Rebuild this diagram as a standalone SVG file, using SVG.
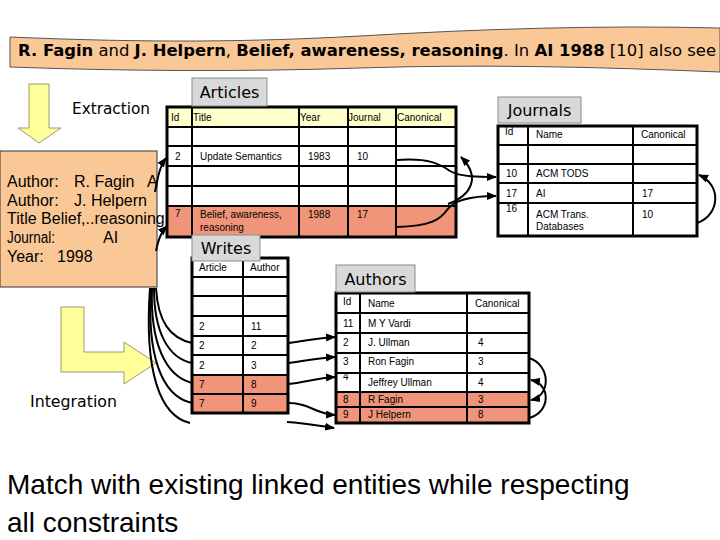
<svg xmlns="http://www.w3.org/2000/svg" width="720" height="540" viewBox="0 0 720 540">
<defs>
<style>
.t{font-family:"Liberation Sans",Arial,sans-serif;font-size:10px;fill:#000}
.lbl{font-family:"DejaVu Sans",Verdana,sans-serif;font-size:16px;fill:#000}
.rec{font-family:"Liberation Sans",Arial,sans-serif;font-size:16px;fill:#000}
.big{font-family:"Liberation Sans",Arial,sans-serif;font-size:28px;fill:#000}
.grid{stroke:#000;stroke-width:2;fill:none}
.outer{stroke:#000;stroke-width:3;fill:none}
.conn{fill:none;stroke:#000;stroke-width:2}
.lbox{fill:#D9D9D9;stroke:#8C8C8C;stroke-width:1}
.hdr{fill:#FFFFCC}
.sal{fill:#F0957A}
.yarrow{fill:#FFFF99;stroke:#9A9A70;stroke-width:1}
</style>
<marker id="ah" markerUnits="userSpaceOnUse" markerWidth="10" markerHeight="8" refX="9" refY="4" orient="auto">
<path d="M0,0 L10,4 L0,8 Z" fill="#000"/>
</marker>
</defs>
<rect width="720" height="540" fill="#fff"/>

<g id="banner">
<path d="M10,37 C150,43 250,42 360,36 C480,29 600,25 720,28 L720,72 C600,67 480,64 360,68 C240,72 120,71 10,67 Z" fill="#FAC896" stroke="#555" stroke-width="1"/>
<text class="lbl" x="18" y="56" textLength="698" lengthAdjust="spacingAndGlyphs"><tspan font-weight="bold">R. Fagin</tspan> and <tspan font-weight="bold">J. Helpern</tspan>,  <tspan font-weight="bold">Belief, awareness, reasoning</tspan>. In <tspan font-weight="bold">AI 1988</tspan> [10] also see</text>
</g>

<g id="extraction">
<path class="yarrow" d="M29,84 L49,84 L49,128 L61,128 L39,143 L18,128 L29,128 Z"/>
<text class="lbl" x="72" y="114" textLength="78" lengthAdjust="spacingAndGlyphs">Extraction</text>
</g>

<g id="record">
<rect x="0" y="151" width="157" height="136" fill="#FAC896" stroke="#333" stroke-width="1"/>
<text class="rec" y="187"><tspan x="7">Author:</tspan><tspan x="74">R. Fagin</tspan><tspan x="147">A</tspan></text>
<text class="rec" y="206"><tspan x="7">Author:</tspan><tspan x="74">J. Helpern</tspan></text>
<text class="rec" x="7" y="224">Title Belief,..reasoning</text>
<text class="rec" y="243"><tspan x="7" textLength="48" lengthAdjust="spacingAndGlyphs">Journal:</tspan><tspan x="103">AI</tspan></text>
<text class="rec" y="262"><tspan x="7">Year:</tspan><tspan x="57">1998</tspan></text>
</g>

<g id="integration">
<path class="yarrow" d="M61,307 L84,307 L84,352 L124,352 L124,342 L156,363 L124,384 L124,372 L61,372 Z"/>
<text class="lbl" x="30" y="407" textLength="87" lengthAdjust="spacingAndGlyphs">Integration</text>
</g>

<g id="articles">
<rect class="hdr" x="167" y="107" width="289" height="20"/>
<rect class="sal" x="167" y="206" width="289" height="31"/>
<path class="grid" d="M167,127H456M167,146H456M167,166H456M167,186H456M167,206H456M192,107V237M299,107V237M348,107V237M396,107V237"/>
<rect class="outer" x="167" y="107" width="289" height="130"/>
<text class="t" x="171" y="121">Id</text>
<text class="t" x="193" y="121">Title</text>
<text class="t" x="300" y="121">Year</text>
<text class="t" x="348" y="121">Journal</text>
<text class="t" x="397" y="121">Canonical</text>
<text class="t" x="175" y="160">2</text>
<text class="t" x="200" y="160">Update Semantics</text>
<text class="t" x="308" y="160">1983</text>
<text class="t" x="357" y="160">10</text>
<text class="t" x="175" y="217">7</text>
<text class="t" x="200" y="218">Belief, awareness,</text>
<text class="t" x="200" y="231">reasoning</text>
<text class="t" x="308" y="218">1988</text>
<text class="t" x="357" y="218">17</text>
<rect class="lbox" x="192" y="78" width="75" height="28"/>
<text class="lbl" x="229.5" y="98" text-anchor="middle">Articles</text>
</g>

<g id="journals">
<path class="grid" d="M498,145H697M498,164H697M498,183H697M498,203H697M528,126V236M633,126V236"/>
<rect class="outer" x="498" y="126" width="199" height="110"/>
<text class="t" x="505" y="135">Id</text>
<text class="t" x="536" y="138">Name</text>
<text class="t" x="641" y="138">Canonical</text>
<text class="t" x="506" y="177">10</text>
<text class="t" x="536" y="177">ACM TODS</text>
<text class="t" x="506" y="197">17</text>
<text class="t" x="536" y="197">AI</text>
<text class="t" x="642" y="197">17</text>
<text class="t" x="506" y="212">16</text>
<text class="t" x="536" y="218">ACM Trans.</text>
<text class="t" x="536" y="230">Databases</text>
<text class="t" x="642" y="218">10</text>
<rect class="lbox" x="498" y="97" width="83" height="26"/>
<text class="lbl" x="539.5" y="116" text-anchor="middle">Journals</text>
</g>

<g id="writes">
<rect class="sal" x="192" y="375" width="96" height="38"/>
<path class="grid" d="M192,277H288M192,296H288M192,316H288M192,336H288M192,355H288M192,375H288M192,394H288M243,258V413"/>
<rect class="outer" x="192" y="258" width="96" height="155"/>
<text class="t" x="199" y="271">Article</text>
<text class="t" x="250" y="271">Author</text>
<text class="t" x="199" y="330">2</text><text class="t" x="251" y="330">11</text>
<text class="t" x="199" y="349">2</text><text class="t" x="251" y="349">2</text>
<text class="t" x="199" y="369">2</text><text class="t" x="251" y="369">3</text>
<text class="t" x="199" y="388">7</text><text class="t" x="251" y="388">8</text>
<text class="t" x="199" y="407">7</text><text class="t" x="251" y="407">9</text>
<rect class="lbox" x="192" y="235" width="68" height="26"/>
<text class="lbl" x="226" y="254" text-anchor="middle">Writes</text>
</g>

<g id="authors">
<rect class="sal" x="336" y="392" width="193" height="31"/>
<path class="grid" d="M336,313H529M336,333H529M336,353H529M336,373H529M336,392H529M336,407H529M360,293V423M467,293V423"/>
<rect class="outer" x="336" y="293" width="193" height="130"/>
<text class="t" x="343" y="305">Id</text>
<text class="t" x="368" y="307">Name</text>
<text class="t" x="475" y="307">Canonical</text>
<text class="t" x="343" y="327">11</text><text class="t" x="368" y="327">M Y Vardi</text>
<text class="t" x="343" y="346">2</text><text class="t" x="368" y="346">J. Ullman</text><text class="t" x="478" y="346">4</text>
<text class="t" x="343" y="365">3</text><text class="t" x="368" y="365">Ron Fagin</text><text class="t" x="478" y="365">3</text>
<text class="t" x="343" y="380">4</text><text class="t" x="368" y="386">Jeffrey Ullman</text><text class="t" x="478" y="386">4</text>
<text class="t" x="343" y="403">8</text><text class="t" x="368" y="403">R Fagin</text><text class="t" x="478" y="403">3</text>
<text class="t" x="343" y="418">9</text><text class="t" x="368" y="418">J Helpern</text><text class="t" x="478" y="418">8</text>
<rect class="lbox" x="336" y="265" width="79" height="27"/>
<text class="lbl" x="375.5" y="285" text-anchor="middle">Authors</text>
</g>

<g id="connectors">
<path class="conn" stroke-width="2.5" d="M155,192 C158,176 160,166 166,158" marker-end="url(#ah)"/>
<path class="conn" stroke-width="2.5" d="M156,251 C158,240 161,232 167,226" marker-end="url(#ah)"/>
<path class="conn" d="M397,160 C430,158 440,164 450,171 C460,177 480,177 496,177" marker-end="url(#ah)"/>
<path class="conn" d="M397,227 C430,226 440,220 447,210 C455,198 480,196 496,196" marker-end="url(#ah)"/>
<path class="conn" d="M448,204 C470,196 482,178 461,157" marker-end="url(#ah)"/>
<path class="conn" d="M697,223 C720,215 722,185 699,175" marker-end="url(#ah)"/>
<path class="conn" d="M156,288 C158,322 170,338 192,343"/>
<path class="conn" d="M154,288 C154,332 168,358 192,363"/>
<path class="conn" d="M152,288 C150,342 165,376 192,383"/>
<path class="conn" d="M151,288 C147,352 160,396 192,403"/>
<path class="conn" d="M150,288 C144,372 160,416 190,423"/>
<path class="conn" d="M289,343 C305,341 318,338 335,337" marker-end="url(#ah)"/>
<path class="conn" d="M289,363 C305,361 318,358 335,357" marker-end="url(#ah)"/>
<path class="conn" d="M289,384 C305,382 318,378 335,377" marker-end="url(#ah)"/>
<path class="conn" d="M289,403 C310,403 315,414 335,415" marker-end="url(#ah)"/>
<path class="conn" d="M287,422 C305,423 320,426 334,428" marker-end="url(#ah)"/>
<path class="conn" d="M529,358 C551,365 551,396 531,400" marker-end="url(#ah)"/>
<path class="conn" d="M529,418 C551,412 551,384 531,380" marker-end="url(#ah)"/>
</g>

<g id="caption">
<text class="big" x="7" y="494">Match with existing linked entities while respecting</text>
<text class="big" x="7" y="532">all constraints</text>
</g>
</svg>
